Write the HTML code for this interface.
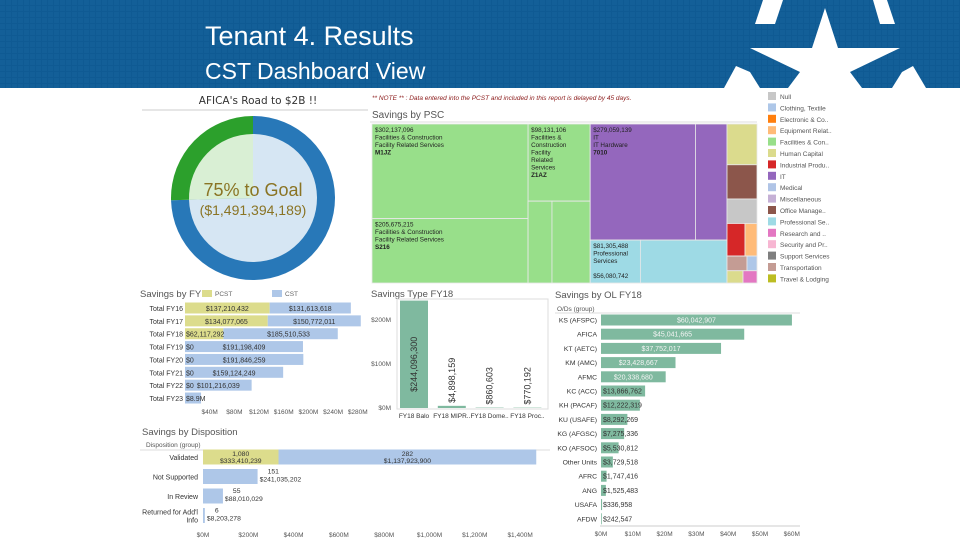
<!DOCTYPE html>
<html><head><meta charset="utf-8"><style>
html,body{margin:0;padding:0;background:#fff;width:960px;height:540px;overflow:hidden}
svg{display:block;font-family:"Liberation Sans",sans-serif}
</style></head><body>
<svg id="root" width="960" height="540" viewBox="0 0 960 540">
<defs>
<pattern id="grid" width="6" height="6" patternUnits="userSpaceOnUse"><rect width="6" height="6" fill="#0f5a93"/><rect width="5" height="5" fill="#135f98"/></pattern>
</defs>
<g>
<rect x="0" y="0" width="960" height="88" fill="url(#grid)"/>
<g fill="#fff">
<polygon points="763,0 783,0 775,24 755,24"/>
<polygon points="873,0 887,0 895,24 880,24"/>
<polygon points="736,66 750,72 760,88 724,88"/>
<polygon points="913,66 926,88 892,88 902,72"/>
<polygon points="825,8 838,48 900,48 850,72 862,88 788,88 800,72 750,48 812,48"/>
</g>
<text x="205" y="45" font-size="27" fill="#fff">Tenant 4. Results</text>
<text x="205" y="79" font-size="23" fill="#fff">CST Dashboard View</text>
</g>
<g id="dash"></g>
</svg>
<script>
// ---------- data ----------
const goalValue = 2000000000;
const achievedValue = 1491394189;

const fyCats = ["Total FY16","Total FY17","Total FY18","Total FY19","Total FY20","Total FY21","Total FY22","Total FY23"];
const fyPcst = [137.2,134.1,62.1,0,0,0,0,0];
const fyCst = [131.6,150.8,185.5,191.2,191.8,159.1,108,26];
const fyPcstLabels = ["$137,210,432","$134,077,065","$62,117,292","$0","$0","$0","$0",""];
const fyCstLabels = ["$131,613,618","$150,772,011","$185,510,533","$191,198,409","$191,846,259","$159,124,249","$101,216,039","$8.9M"];
const fyTicks = [40,80,120,160,200,240,280];

const typeCats = ["FY18 Balo","FY18 MIPR..","FY18 Dome..","FY18 Proc.."];
const typeVals = [244.1,4.9,0.86,0.77];
const typeLabels = ["$244,096,300","$4,898,159","$860,603","$770,192"];
const typeTicks = [0,100,200];

const olCats = ["KS (AFSPC)","AFICA","KT (AETC)","KM (AMC)","AFMC","KC (ACC)","KH (PACAF)","KU (USAFE)","KG (AFGSC)","KO (AFSOC)","Other Units","AFRC","ANG","USAFA","AFDW"];
const olVals = [60.04,45.04,37.75,23.43,20.34,13.87,12.22,8.29,7.28,5.53,3.73,1.75,1.53,0.34,0.24];
const olLabels = ["$60,042,907","$45,041,665","$37,752,017","$23,428,667","$20,338,680","$13,866,762","$12,222,319","$8,292,269","$7,275,336","$5,530,812","$3,729,518","$1,747,416","$1,525,483","$336,958","$242,547"];
const olTicks = [0,10,20,30,40,50,60];

const dispCats = ["Validated","Not Supported","In Review","Returned for Add'l|Info"];
const dispPcst = [333.4,0,0,0];
const dispCst = [1137.9,241.0,88.0,8.2];
const dispPcstCounts = ["1,080","","",""];
const dispPcstLabels = ["$333,410,239","","",""];
const dispCstCounts = ["282","151","55","6"];
const dispCstLabels = ["$1,137,923,900","$241,035,202","$88,010,029","$8,203,278"];
const dispTicks = [0,200,400,600,800,1000,1200,1400];
const dispTickLabels = ["$0M","$200M","$400M","$600M","$800M","$1,000M","$1,200M","$1,400M"];

const legendNames = ["Null","Clothing, Textile","Electronic & Co..","Equipment Relat..","Facilities & Con..","Human Capital","Industrial Produ..","IT","Medical","Miscellaneous","Office Manage..","Professional Se..","Research and ..","Security and Pr..","Support Services","Transportation","Travel & Lodging"];
const legendColors = ["#c7c7c7","#aec7e8","#ff7f0e","#ffbb78","#98df8a","#dbdb8d","#d62728","#9467bd","#b0c4e6","#c5b0d5","#8c564b","#9edae5","#e377c2","#f7b6d2","#7f7f7f","#c49c94","#bcbd22"];

const tmColumns = [
 [{v:302.1,c:"#98df8a",label:["$302,137,096","Facilities & Construction","Facility Related Services","M1JZ"]},
  {v:205.6,c:"#98df8a",label:["$205,675,215","Facilities & Construction","Facility Related Services","S216"]}],
 [{v:98.1,c:"#98df8a",label:["$98,131,106","Facilities &","Construction","Facility","Related","Services","Z1AZ"]},
  {v:104,c:"#98df8a",kids:[40,64]}],
 [{v:325,c:"#9467bd",kids:[250,75],label:["$279,059,139","IT","IT Hardware","7010"]},
  {v:120,c:"#9edae5",kids:[44,76],label:["$81,305,488","Professional","Services","","$56,080,742"]}],
 [{v:25,c:"#dbdb8d"},{v:21,c:"#8c564b"},{v:15,c:"#c7c7c7"},{v:20,c:"#d62728",kids:[12,8],kidColors:["#d62728","#ffbb78"]},{v:9,c:"#c49c94",kids:[6,3],kidColors:["#c49c94","#aec7e8"]},{v:7.5,c:"#dbdb8d",kids:[4,3.5],kidColors:["#dbdb8d","#e377c2"]}]
];

// ---------- helpers ----------
const NS = "http://www.w3.org/2000/svg";
const dash = document.getElementById("dash");
function mk(tag, attrs, parent){
  const el = document.createElementNS(NS, tag);
  for (const k in attrs) el.setAttribute(k, attrs[k]);
  (parent||dash).appendChild(el);
  return el;
}
function txt(x,y,s,size,fill,anchor,parent,extra){
  const a = {x:x,y:y,"font-size":size,fill:fill||"#333","text-anchor":anchor||"start"};
  if (extra) for (const k in extra) a[k]=extra[k];
  const t = mk("text",a,parent);
  t.textContent = s;
  return t;
}
function group(){ return mk("g",{}); }

// ---------- donut ----------
(function(){
  const g = group();
  
  
  const t = txt(258,104,"AFICA's Road to $2B !!",10.5,"#333","middle",g,{"font-family":"DejaVu Sans,sans-serif"});
  
  
  mk("line",{x1:142,y1:110,x2:368,y2:110,stroke:"#ccc"},g);
  const cx=253, cy=198, ro=82, ri=64;
  const frac = achievedValue/goalValue;
  function pt(r,f){ const a = f*2*Math.PI - Math.PI/2; return [cx+r*Math.cos(a), cy+r*Math.sin(a)]; }
  function sector(f0,f1,r,fill){
    const p0=pt(r,f0), p1=pt(r,f1), large=(f1-f0)>0.5?1:0;
    return mk("path",{d:`M${cx},${cy} L${p0[0]},${p0[1]} A${r},${r} 0 ${large} 1 ${p1[0]},${p1[1]} Z`,fill:fill},g);
  }
  const s1 = sector(0,frac,ro,"#2878b8");
  
  
  const s2 = sector(frac,1,ro,"#2ca02c");
  
  
  sector(0,frac,ri,"#d6e6f3");
  sector(frac,1,ri,"#d9efd4");
  const pct = Math.round(frac*100);
  const l1 = txt(cx,196,pct+"% to Goal",18,"#8a7424","middle",g);
  
  
  const l2 = txt(cx,215,"($"+achievedValue.toLocaleString("en-US")+")",14,"#8a7424","middle",g);
  
  
})();

// ---------- treemap ----------
(function(){
  const g = group();
  
  
  const n = txt(372,100,"** NOTE ** : Data entered into the PCST and included in this report is delayed by 45 days.",6.5,"#8b1a1a","start",g,{"font-style":"italic"});
  
  
  const ti = txt(372,118,"Savings by PSC",10,"#555","start",g);
  
  
  mk("line",{x1:370,y1:122,x2:757,y2:122,stroke:"#ddd"},g);
  const X0=372,Y0=124,W=385,H=159;
  const colSums = tmColumns.map(c=>c.reduce((s,t)=>s+t.v,0));
  const total = colSums.reduce((a,b)=>a+b,0);
  let x = X0;
  tmColumns.forEach((col,ci)=>{
    const w = W*colSums[ci]/total;
    let y = Y0;
    col.forEach((tile)=>{
      const h = H*tile.v/colSums[ci];
      const r = mk("rect",{x:x,y:y,width:w,height:h,fill:tile.c,stroke:"#e8e8e8","stroke-width":0.8},g);
      
      
      if (tile.kids){
        const ks = tile.kids.reduce((a,b)=>a+b,0);
        let kx = x;
        tile.kids.forEach((k,ki)=>{
          const kw = w*k/ks;
          const kr = mk("rect",{x:kx,y:y,width:kw,height:h,fill:tile.kidColors?tile.kidColors[ki]:tile.c,stroke:"#e8e8e8","stroke-width":0.8},g);
          
          
          kx += kw;
        });
      }
      if (tile.label){
        tile.label.forEach((s,li)=>{
          const last = li===tile.label.length-1 && /^[A-Z0-9]{4}$/.test(s);
          const lt = txt(x+3,y+8+li*7.5,s,6.3,"#222","start",g,last?{"font-weight":"bold"}:{});
          
          
        });
      }
      y += h;
    });
    x += w;
  });
  legendNames.forEach((name,i)=>{
    const ly = 98 + i*11.4;
    const sw = mk("rect",{x:768,y:ly-6,width:8,height:8,fill:legendColors[i]},g);
    
    
    const lt = txt(780,ly+1,name,6.5,"#555","start",g);
    
    
  });
})();

// ---------- savings by FY ----------
(function(){
  const g = group();
  
  
  const x0=185, sc=0.617;
  const xs = v=>x0+v*sc;
  const ys = i=>308+i*12.86;
  const t = txt(140,297,"Savings by FY",9.5,"#555","start",g);
  
  
  const s1 = mk("rect",{x:202,y:290,width:10,height:7,fill:"#dcdc8c"},g);
  
  
  txt(215,296,"PCST",6.5,"#666","start",g);
  const s2 = mk("rect",{x:272,y:290,width:10,height:7,fill:"#aec7e8"},g);
  
  
  txt(285,296,"CST",6.5,"#666","start",g);
  fyCats.forEach((c,i)=>{
    const y = ys(i);
    const lb = txt(183,y+3,c,7,"#333","end",g);
    
    
    const pw = fyPcst[i]*sc, cw = fyCst[i]*sc;
    const bp = mk("rect",{x:x0,y:y-5.5,width:pw,height:11,fill:"#dcdc8c"},g);
    
    
    const bc = mk("rect",{x:xs(fyPcst[i]),y:y-5.5,width:cw,height:11,fill:"#aec7e8"},g);
    
    
    if (fyPcstLabels[i]){
      const pl = pw>60 ? txt(x0+pw/2,y+3,fyPcstLabels[i],7,"#333","middle",g) : txt(x0+1,y+3,fyPcstLabels[i],7,"#333","start",g);
      
      
    }
    const cl = cw>40 ? txt(xs(fyPcst[i])+cw/2+(pw>0&&pw<60?8:0),y+3,fyCstLabels[i],7,"#333","middle",g) : txt(x0+1+(fyPcstLabels[i]?12:0),y+3,fyCstLabels[i],7,"#333","start",g);
    
    
  });
  fyTicks.forEach(v=>{
    const tl = txt(xs(v),414,"$"+v+"M",6.5,"#555","middle",g);
    
    
  });
})();

// ---------- savings type ----------
(function(){
  const g = group();
  
  
  const y0=408, sc=0.44;
  const ys = v=>y0-v*sc;
  const xc = i=>414+i*37.8;
  const t = txt(371,297,"Savings Type FY18",9.5,"#555","start",g);
  
  
  mk("rect",{x:397,y:299,width:151,height:110,fill:"none",stroke:"#ddd"},g);
  typeTicks.forEach(v=>{
    const tl = txt(391,ys(v)+2,"$"+v+"M",6.5,"#555","end",g);
    
    
  });
  typeCats.forEach((c,i)=>{
    const h = typeVals[i]*sc;
    const b = mk("rect",{x:xc(i)-14,y:y0-h,width:28,height:h,fill:"#7fb99f"},g);
    
    
    let vl;
    if (h>60) vl = txt(0,0,typeLabels[i],9,"#333","middle",g,{transform:`translate(${xc(i)+3},${y0-h/2+10}) rotate(-90)`});
    else vl = txt(0,0,typeLabels[i],9,"#333","start",g,{transform:`translate(${xc(i)+3},${y0-h-3}) rotate(-90)`});
    
    
    const cl = txt(xc(i),418,c,6.5,"#333","middle",g);
    
    
  });
})();

// ---------- savings by OL ----------
(function(){
  const g = group();
  
  
  const x0=601, sc=3.18;
  const xs = v=>x0+v*sc;
  const ys = i=>320+i*14.2;
  const t = txt(555,298,"Savings by OL FY18",9.5,"#555","start",g);
  
  
  txt(557,311,"O/Ds (group)",6.5,"#555","start",g);
  mk("line",{x1:555,y1:313,x2:800,y2:313,stroke:"#ddd"},g);
  olCats.forEach((c,i)=>{
    const y = ys(i);
    const lb = txt(597,y+2.5,c,6.8,"#333","end",g);
    
    
    const w = olVals[i]*sc;
    const b = mk("rect",{x:x0,y:y-5.5,width:w,height:11,fill:"#7fb99f"},g);
    
    
    const vl = w>60 ? txt(x0+w/2,y+2.5,olLabels[i],7,"#f4f4f4","middle",g) : txt(x0+2,y+2.5,olLabels[i],7,"#333","start",g);
    
    
  });
  mk("line",{x1:600,y1:526,x2:800,y2:526,stroke:"#ccc"},g);
  olTicks.forEach(v=>{
    const tl = txt(xs(v),536,"$"+v+"M",6.5,"#555","middle",g);
    
    
  });
})();

// ---------- disposition ----------
(function(){
  const g = group();
  
  
  const x0=203, sc=0.2265;
  const xs = v=>x0+v*sc;
  const ys = i=>457+i*19.5;
  const t = txt(142,435,"Savings by Disposition",9.5,"#555","start",g);
  
  
  txt(146,447,"Disposition (group)",6.5,"#555","start",g);
  mk("line",{x1:140,y1:450,x2:550,y2:450,stroke:"#ddd"},g);
  dispCats.forEach((c,i)=>{
    const y = ys(i);
    const parts = c.split("|");
    parts.forEach((p,pi)=>{
      const lb = txt(198,y+3+(parts.length>1?(pi-0.5)*8:0),p,7,"#333","end",g);
      
      
    });
    const pw = dispPcst[i]*sc, cw = dispCst[i]*sc;
    const bp = mk("rect",{x:x0,y:y-7.5,width:pw,height:15,fill:"#dcdc8c"},g);
    
    
    const bc = mk("rect",{x:xs(dispPcst[i]),y:y-7.5,width:cw,height:15,fill:"#aec7e8"},g);
    
    
    if (dispPcstLabels[i]){
      txt(x0+pw/2,y-1,dispPcstCounts[i],6.8,"#333","middle",g);
      const pl = txt(x0+pw/2,y+6,dispPcstLabels[i],6.8,"#333","middle",g);
      
      
    }
    let cx, anc;
    if (cw>100){ cx = xs(dispPcst[i])+cw/2; anc="middle"; } else { cx = xs(dispPcst[i])+cw+2; anc="start"; }
    txt(cx+(anc==="start"?8:0),y-1+(anc==="start"?-2:0),dispCstCounts[i],6.8,"#333",anc,g);
    const cl = txt(cx,y+6+(anc==="start"?-1:0),dispCstLabels[i],6.8,"#333",anc,g);
    
    
  });
  dispTicks.forEach((v,i)=>{
    const tl = txt(xs(v),537,dispTickLabels[i],6.5,"#555","middle",g);
    
    
  });
})();
</script>
</body></html>
